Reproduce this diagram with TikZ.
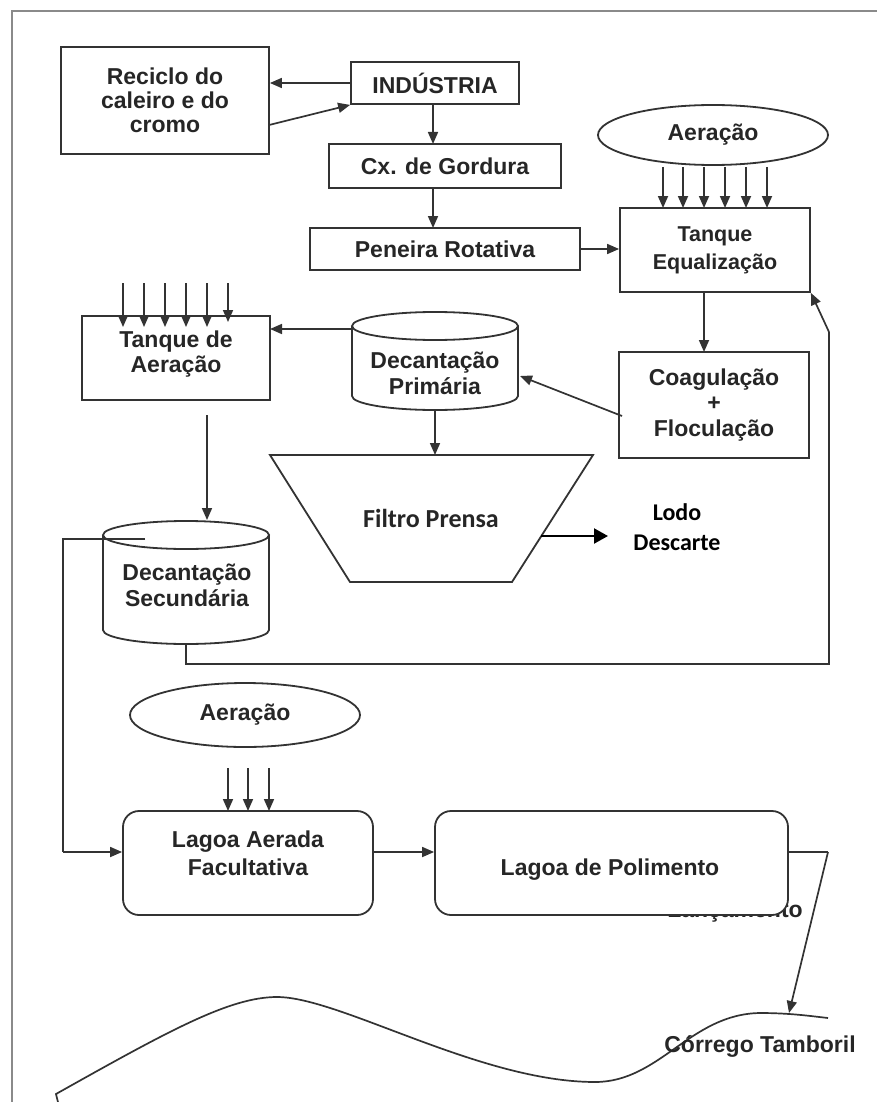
\documentclass[tikz,border=0pt]{standalone}
\usepackage{fontspec}
\setmainfont{Liberation Sans}
\newfontfamily\calfont{Carlito}
\usetikzlibrary{arrows.meta,shapes.geometric}
\definecolor{ink}{HTML}{262626}
\definecolor{edge}{HTML}{333333}
\definecolor{framec}{HTML}{8A8A8A}
\begin{document}
\begin{tikzpicture}[x=1pt,y=-1pt,
  txt/.style={text=ink,font=\bfseries\fontsize{23}{24}\selectfont,align=center,inner sep=0pt},
  box/.style={txt,draw=edge,line width=1.8pt,fill=white},
  rbox/.style={box,rounded corners=16pt},
  oval/.style={box,ellipse},
  ln/.style={draw=edge,line width=1.7pt},
  arr/.style={ln,-{Triangle[length=12pt,width=10pt]}},
  bigarr/.style={draw=black,line width=2.2pt,-{Triangle[length=14pt,width=15pt]}}]
\useasboundingbox (0,0) rectangle (877,1102);
% frame
\draw[framec,line width=2.5pt] (12,1102) -- (12,11) -- (877,11);

% top boxes
\node[box,minimum width=208pt,minimum height=107pt] (rec) at (165,100.5) {Reciclo do\\caleiro e do\\cromo};
\node[box,minimum width=168pt,minimum height=42pt] (ind) at (435,83) {INDÚSTRIA};
\node[box,minimum width=232pt,minimum height=44pt] (cx) at (445,166) {Cx. de Gordura};
\node[box,minimum width=270pt,minimum height=42pt] (pen) at (445,249) {Peneira Rotativa};
\node[box,minimum width=190pt,minimum height=84pt,font=\bfseries\fontsize{21.5}{28}\selectfont] (teq) at (715,250) {Tanque\\Equaliza\c{c}ão};
\node[oval,minimum width=230pt,minimum height=60pt] (aer1) at (713,135) {Aeração};
\node[box,minimum width=190pt,minimum height=106pt,font=\bfseries\fontsize{23}{25.5}\selectfont] (coag) at (714,405) {Coagulação\\+\\Floculação};
\node[box,minimum width=188pt,minimum height=84pt] (tae) at (176,358) {};
\node[txt,font=\bfseries\fontsize{23}{25}\selectfont] (taet) at (176,354) {Tanque de\\Aeração};

% connectors top
\draw[arr] (ind.west) -- (rec.east |- ind.west);
\draw[arr] (269,125) -- (ind.south west);
\draw[arr] (433,104) -- (433,144);
\draw[arr] (433,188) -- (433,228);
\draw[arr] (pen.east) -- (teq.west |- pen.east);
\foreach \xx in {663,683,704,725,746,767} \draw[arr] (\xx,167) -- (\xx,208);
\draw[arr] (704,292) -- (704,352);

% Decantacao primaria (cylinder)
\draw[ln,line width=1.8pt,fill=white] (352,326) -- (352,396) arc[start angle=180,end angle=360,x radius=83pt,y radius=14pt] -- (518,326);
\draw[ln,line width=1.8pt,fill=white] (435,326) ellipse[x radius=83pt,y radius=14pt];
\node[txt,font=\bfseries\fontsize{23}{26}\selectfont] (dprim) at (435,373) {Decantação\\Primária};
\coordinate (dprimW) at (352,329);
\coordinate (dprimE) at (520,376);
\coordinate (dprimS) at (435,410);

\draw[arr] (622,416) -- (dprimE);
\draw[arr] (dprimW) -- (270,329);

% aeration arrows into tanque de aeracao
\foreach \xx in {123,144,165,186,207} \draw[arr] (\xx,283) -- (\xx,327);
\draw[arr] (228,283) -- (228,322);

% filtro prensa
\draw[ln,line width=1.8pt,fill=white] (270,455) -- (593,455) -- (512,582) -- (350,582) -- cycle;
\node[text=ink,font=\calfont\bfseries\fontsize{26}{28}\selectfont,inner sep=0pt] (filtro) at (431,518) {Filtro Prensa};
\coordinate (filtroN) at (435,455);
\coordinate (filtroE) at (541,536);
\draw[arr] (dprimS) -- (filtroN);
\node[font=\calfont\bfseries\fontsize{24}{30}\selectfont,align=center,text=black,inner sep=0pt] (lodo) at (677,527) {Lodo\\Descarte};
\draw[bigarr] (filtroE) -- (608,536);

% Decantacao secundaria (cylinder)
\draw[ln,line width=1.8pt,fill=white] (103,535) -- (103,630) arc[start angle=180,end angle=360,x radius=83pt,y radius=14pt] -- (269,535);
\draw[ln,line width=1.8pt,fill=white] (186,535) ellipse[x radius=83pt,y radius=14pt];
\node[txt,font=\bfseries\fontsize{23}{26}\selectfont] (dsec) at (187,585) {Decantação\\Secundária};
\draw[arr] (207,415) -- (207,520);

% recirculation
\draw[ln] (186,644) -- (186,664) -- (829,664) -- (829,332);
\draw[arr] (829,332) -- (teq.south east);

% lower part
\node[oval,minimum width=230pt,minimum height=64pt] (aer2) at (245,715) {Aeração};
\node[rbox,minimum width=250pt,minimum height=104pt] (laf) at (248,863) {};
\node[txt,font=\bfseries\fontsize{23}{28}\selectfont] (laft) at (248,853) {Lagoa Aerada\\Facultativa};
\foreach \xx in {228,248,269} \draw[arr] (\xx,768) -- (\xx,811);
\draw[ln] (145,539) -- (63,539) -- (63,852);
\draw[arr] (63,852) -- (laf.west |- 0,852);

\node[txt,anchor=base] (lanc) at (735,917) {Lançamento};
\node[rbox,minimum width=353pt,minimum height=104pt] (lpol) at (611.5,863) {};
\node[txt] (lpolt) at (610,870) {Lagoa de Polimento};
\draw[arr] (373,852) -- (lpol.west |- 0,852);

% river
\draw[ln] (58,1102) -- (56,1094) .. controls (170,1030) and (230,997) .. (277,997)
  .. controls (340,997) and (480,1082) .. (595,1082)
  .. controls (660,1082) and (690,1014) .. (760,1013)
  .. controls (790,1013) and (810,1016) .. (828,1018);
\coordinate (river) at (789,1013);
\draw[ln] (788,852) -- (828,852);
\draw[arr] (828,852) -- (river);
\node[txt,anchor=base] (corr) at (760,1052) {Córrego Tamboril};
\end{tikzpicture}
\end{document}
